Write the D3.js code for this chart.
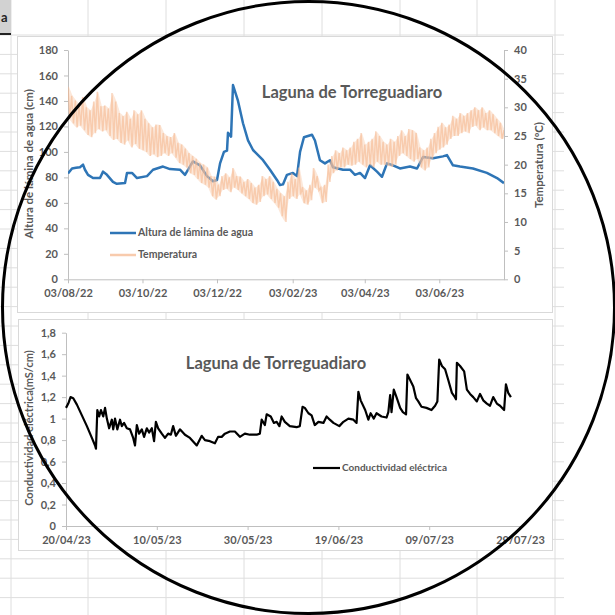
<!DOCTYPE html>
<html>
<head>
<meta charset="utf-8">
<script src="https://cdn.jsdelivr.net/npm/d3@7"></script>
<style>
    body { margin: 0; background: #fff; }
    svg { display: block; }
</style>
</head>
<body>
<script>
// ---- chart 1: water level (left axis) and temperature (right axis) ----
// days counted from 03/08/22
const levelDays = [0, 3.3, 6.5, 9.8, 12.3, 13.9, 16.4, 20.5, 26.2, 28.7,
    31.9, 36.8, 40, 46.7, 48.3, 52.4, 56.5, 64.7, 69.6, 77.8,
    83.5, 91.7, 95.8, 102.3, 108, 113.8, 118.7, 122, 124.5, 127.7,
    130.2, 131, 133.5, 135.1, 139.2, 143.3, 147.4, 151.5, 159.7, 165.4,
    171.1, 173.6, 176, 179.3, 184.2, 187.5, 190, 193.2, 199.8, 202.2,
    206.3, 210.4, 214.5, 217, 225.2, 230.9, 235, 239.1, 243.2, 247.3,
    253, 257.1, 261.2, 266.1, 271.8, 280, 285.8, 290.7, 298.9, 307,
    310.3, 315.2, 321, 331.6, 343, 351.3, 357]
const levelValues = [83, 87, 87.5, 88, 90, 86, 82, 79.5, 79.5, 84.5,
    82, 76.5, 75, 75.5, 83.5, 83.5, 79.5, 81, 86, 88.5,
    86.5, 86, 82, 92.5, 89.5, 81, 77, 78, 91, 100,
    101, 115, 112, 152.5, 140, 122.5, 109, 101.5, 93.5, 86,
    78, 74, 74.5, 82, 83.5, 81, 100, 111.5, 113.5, 109,
    93.5, 91, 93.5, 88, 86, 86, 82, 83.5, 79.5, 89.5,
    84.5, 80.5, 91, 89.5, 87, 88.5, 87, 96, 95, 96.5,
    97.5, 89.5, 88.5, 87, 83.5, 79.5, 75.5]

// temperature: daily high / low read every 3 days
const tempStep = 3
const tempMax = [33.6, 32.0, 31.2, 30.5, 31.8, 30.0, 29.5, 31.0, 32.7, 30.2,
    30.3, 29.8, 32.5, 31.0, 29.0, 28.5, 29.2, 28.0, 29.5, 28.8,
    29.5, 28.0, 27.2, 26.5, 27.0, 26.9, 25.5, 25.0, 24.8, 25.5,
    23.8, 23.5, 22.8, 22.0, 21.5, 21.0, 20.3, 20.0, 19.5, 18.0,
    17.9, 16.5, 18.0, 18.5, 17.8, 19.4, 18.0, 17.9, 17.0, 17.5,
    16.8, 16.0, 16.5, 18.0, 17.5, 18.0, 17.0, 15.8, 15.0, 14.5,
    17.0, 18.5, 17.5, 19.5, 16.1, 15.5, 16.5, 19.4, 18.0, 16.0,
    16.5, 20.0, 21.5, 22.5, 22.0, 23.0, 22.5, 23.0, 24.0, 24.5,
    25.5, 23.5, 24.0, 24.5, 25.8, 25.0, 24.0, 23.5, 24.5, 24.0,
    25.0, 26.0, 25.0, 26.2, 26.0, 25.5, 23.0, 22.5, 23.0, 24.5,
    25.5, 26.6, 27.3, 26.5, 27.0, 28.5, 28.0, 29.0, 28.5, 29.0,
    29.5, 30.0, 29.5, 30.0, 29.0, 29.5, 28.8, 28.0, 27.3, 26.0]
const tempMin = [28.0, 27.2, 26.5, 26.8, 26.0, 25.2, 24.8, 25.5, 26.2, 25.8,
    26.0, 25.0, 24.3, 24.5, 23.8, 23.5, 24.2, 23.0, 23.6, 22.8,
    22.5, 22.2, 21.5, 21.8, 21.3, 21.5, 22.0, 21.5, 22.0, 21.2,
    20.3, 20.0, 19.5, 18.5, 18.2, 17.5, 16.8, 16.5, 16.0, 14.5,
    13.9, 14.5, 15.6, 15.8, 15.2, 16.0, 15.6, 15.0, 14.5, 14.0,
    13.3, 13.0, 13.5, 14.5, 14.8, 14.0, 13.3, 12.5, 11.0, 10.0,
    14.0, 14.5, 14.0, 14.8, 13.3, 13.0, 13.8, 16.0, 15.5, 13.3,
    13.5, 17.0, 18.5, 19.0, 19.5, 19.5, 20.0, 19.8, 20.0, 20.5,
    20.0, 19.5, 20.0, 19.5, 20.5, 20.0, 20.0, 19.8, 19.6, 20.0,
    21.5, 22.0, 21.5, 21.0, 20.5, 21.0, 19.5, 19.0, 19.5, 21.0,
    22.0, 22.6, 23.0, 23.5, 24.5, 25.0, 25.0, 25.5, 25.8, 25.5,
    26.6, 26.8, 26.0, 26.5, 26.0, 26.0, 25.5, 25.0, 24.5, 24.5]

const topDateTicks = ["2022-08-03", "2022-10-03", "2022-12-03", "2023-02-03", "2023-04-03", "2023-06-03"]
const levelTicks = [0, 20, 40, 60, 80, 100, 120, 140, 160, 180]
const tempTicks = [0, 5, 10, 15, 20, 25, 30, 35, 40]

// ---- chart 2: electrical conductivity ----
// days counted from 20/04/23
const condDays = [0, 0.5, 1.0, 1.6, 2.4, 3.5, 4.6, 5.7, 6.4, 6.6,
    6.9, 7.3, 7.7, 8.2, 8.6, 9.0, 9.5, 10.1, 10.4, 10.8,
    11.3, 11.9, 12.3, 12.8, 13.4, 14.1, 14.8, 15.2, 15.6, 16.1,
    16.7, 17.2, 17.8, 18.3, 18.9, 19.4, 19.8, 20.3, 21.1, 21.8,
    22.5, 23.1, 23.6, 24.2, 25.1, 26.2, 27.3, 28.8, 29.9, 30.6,
    31.7, 32.8, 33.5, 34.3, 35.0, 36.1, 37.2, 38.3, 39.4, 40.5,
    42.0, 42.7, 43.1, 43.8, 44.2, 45.1, 45.8, 46.4, 47.0, 47.5,
    48.2, 49.3, 50.8, 51.5, 52.1, 52.6, 53.4, 54.1, 54.8, 55.6,
    56.7, 57.4, 58.1, 58.9, 60.2, 61.1, 62.2, 63.3, 64.0, 64.4,
    64.9, 65.9, 66.6, 67.1, 67.8, 68.4, 69.5, 70.6, 71.0, 71.4,
    71.7, 72.2, 72.8, 73.6, 74.2, 74.9, 75.2, 75.8, 76.5, 77.1,
    77.6, 78.3, 79.4, 80.5, 81.3, 81.8, 82.2, 82.8, 83.5, 84.2,
    85.0, 85.5, 85.9, 86.1, 86.8, 87.7, 88.3, 89.0, 89.7, 90.5,
    91.2, 91.9, 92.7, 93.4, 94.1, 94.9, 95.6, 96.5, 96.9, 97.4,
    98.0]
const condValues = [1.10, 1.14, 1.20, 1.19, 1.13, 1.03, 0.93, 0.82, 0.75, 0.72,
    1.08, 1.02, 1.08, 1.02, 1.10, 1.00, 0.91, 0.99, 0.90, 1.00,
    0.90, 0.99, 0.93, 0.96, 0.91, 0.90, 0.82, 0.75, 0.94, 0.86,
    0.90, 0.83, 0.91, 0.87, 0.91, 0.79, 0.97, 0.91, 0.86, 0.82,
    0.86, 0.85, 0.93, 0.84, 0.90, 0.85, 0.82, 0.75, 0.84, 0.80,
    0.79, 0.77, 0.83, 0.83, 0.86, 0.88, 0.88, 0.83, 0.86, 0.85,
    0.85, 0.86, 0.99, 0.94, 1.04, 1.02, 0.96, 0.97, 0.93, 1.02,
    0.97, 0.93, 0.92, 0.93, 1.11, 1.10, 1.05, 1.03, 0.94, 0.97,
    0.96, 1.02, 0.99, 0.96, 0.93, 0.97, 1.00, 0.99, 0.96, 1.25,
    1.17, 1.08, 0.99, 1.05, 1.00, 1.05, 1.02, 1.01, 1.06, 1.22,
    1.06, 1.27, 1.20, 1.10, 1.06, 1.04, 1.41, 1.36, 1.30, 1.19,
    1.16, 1.11, 1.10, 1.08, 1.12, 1.16, 1.55, 1.49, 1.46, 1.36,
    1.24, 1.21, 1.18, 1.52, 1.49, 1.44, 1.27, 1.23, 1.20, 1.16,
    1.23, 1.17, 1.14, 1.12, 1.20, 1.14, 1.12, 1.08, 1.32, 1.24,
    1.20]

const bottomDateTicks = ["2023-04-20", "2023-05-10", "2023-05-30", "2023-06-19", "2023-07-09", "2023-07-29"]
const condTicks = [0, 0.2, 0.4, 0.6, 0.8, 1, 1.2, 1.4, 1.6, 1.8]

const titleText = "Laguna de Torreguadiaro"

// ------------------------------------------------------------------
const W = 615, H = 615
const FONT = "Lato, 'Open Sans', sans-serif"
const GREY_TEXT = "#595959"
const AXIS_GREY = "#bfbfbf"
const GRID = "#dedede"

const parseDate = d3.timeParse("%Y-%m-%d")
const dayOffset = (start, d) => new Date(start.getTime() + d * 864e5)
const fmtDate = d3.timeFormat("%d/%m/%y")

const svg = d3.select("body").append("svg")
    .attr("width", W)
    .attr("height", H)

// spreadsheet background
function drawSheet() {
    const g = svg.append("g")
    const cols = [11, 88, 166, 244, 322, 400, 477, 555]
    const rows = d3.range(35, H, 19.4)
    g.selectAll("line.col").data(cols).join("line")
        .attr("x1", d => d).attr("x2", d => d)
        .attr("y1", 0).attr("y2", H)
        .attr("stroke", GRID)
    g.selectAll("line.row").data(rows).join("line")
        .attr("x1", 0).attr("x2", 564)
        .attr("y1", d => d).attr("y2", d => d)
        .attr("stroke", GRID)
    // selected header cell in the corner
    g.append("rect").attr("x", 0).attr("y", 0).attr("width", 11).attr("height", 34)
        .attr("fill", "#d2d2d2")
    g.append("line").attr("x1", 0).attr("x2", 11).attr("y1", 34).attr("y2", 34)
        .attr("stroke", "#222").attr("stroke-width", 2)
    g.append("text").text("a").attr("x", 1).attr("y", 22)
        .style("font-family", FONT).style("font-size", "13px").style("font-weight", "bold")
        .attr("fill", "#222")
}

function styleAxis(g) {
    g.select(".domain").attr("stroke", AXIS_GREY)
    g.selectAll(".tick line").attr("stroke", AXIS_GREY)
    g.selectAll(".tick text")
        .attr("fill", GREY_TEXT)
        .style("font-family", FONT)
        .style("font-size", "11px")
        .style("font-weight", "bold")
}

function chartBox(x, y, w, h) {
    svg.append("rect")
        .attr("x", x + 0.5).attr("y", y + 0.5)
        .attr("width", w).attr("height", h)
        .attr("fill", "#fff")
        .attr("stroke", "#d9d9d9")
}

function addText(txt, x, y, size, opts = {}) {
    const t = svg.append("text")
        .text(txt)
        .attr("x", x).attr("y", y)
        .attr("fill", opts.fill || GREY_TEXT)
        .style("font-family", FONT)
        .style("font-size", size + "px")
        .style("font-weight", opts.weight || "bold")
        .attr("text-anchor", opts.anchor || "start")
        .attr("dominant-baseline", opts.baseline || "auto")
    if (opts.rotate) t.attr("transform", `rotate(-90, ${x}, ${y})`)
    return t
}

// ---- chart 1 ----
function drawTopChart() {
    chartBox(17, 36, 535, 276)

    const start = parseDate("2022-08-03")
    const x = d3.scaleTime()
        .domain([start, parseDate("2023-07-26")])
        .range([68, 504])
    const yL = d3.scaleLinear().domain([0, 180]).range([279.3, 50])
    const yR = d3.scaleLinear().domain([0, 40]).range([279.3, 50])

    svg.append("defs").append("clipPath").attr("id", "clip1")
        .append("rect").attr("x", 68).attr("y", 40).attr("width", 436).attr("height", 245)

    svg.append("g")
        .attr("transform", "translate(0,279.3)")
        .call(d3.axisBottom(x).tickValues(topDateTicks.map(parseDate))
            .tickFormat(fmtDate).tickSize(4).tickSizeOuter(0).tickPadding(6))
        .call(styleAxis)
    svg.append("g")
        .attr("transform", "translate(68,0)")
        .call(d3.axisLeft(yL).tickValues(levelTicks).tickSize(4).tickSizeOuter(0).tickPadding(6))
        .call(styleAxis)
    svg.append("g")
        .attr("transform", "translate(504,0)")
        .call(d3.axisRight(yR).tickValues(tempTicks).tickSize(4).tickSizeOuter(0).tickPadding(6))
        .call(styleAxis)

    const plot = svg.append("g").attr("clip-path", "url(#clip1)")

    const level = levelDays.map((d, i) => [dayOffset(start, d), levelValues[i]])
    plot.append("path")
        .datum(level)
        .attr("fill", "none")
        .attr("stroke", "#2e75b6")
        .attr("stroke-width", 2.5)
        .attr("stroke-linejoin", "round")
        .attr("d", d3.line().x(d => x(d[0])).y(d => yL(d[1])))

    // daily range of each period, as a faint band
    const band = tempMax.map((v, i) => [dayOffset(start, i * tempStep + tempStep / 4), tempMin[i], v])
    plot.append("path")
        .datum(band)
        .attr("fill", "#f8cbad")
        .attr("fill-opacity", 0.45)
        .attr("d", d3.area().x(d => x(d[0])).y0(d => yR(d[1])).y1(d => yR(d[2])))

    // high then low of each period, giving the daily swing
    const temp = []
    tempMax.forEach((v, i) => {
        temp.push([dayOffset(start, i * tempStep), v])
        temp.push([dayOffset(start, i * tempStep + tempStep / 2), tempMin[i]])
    })
    plot.append("path")
        .datum(temp)
        .attr("fill", "none")
        .attr("stroke", "#f5b790")
        .attr("stroke-opacity", 0.6)
        .attr("stroke-width", 1.4)
        .attr("d", d3.line().x(d => x(d[0])).y(d => yR(d[1])))

    addText(titleText, 352, 98, 16.5, {anchor: "middle"})
    addText("Altura de lámina de agua (cm)", 30, 164, 11.5, {anchor: "middle", baseline: "middle", rotate: true})
    addText("Temperatura (ºC)", 540, 165, 11.5, {anchor: "middle", baseline: "middle", rotate: true})

    // legend
    const legend = [
        {name: "Altura de lámina de agua", color: "#2e75b6", width: 2.5, y: 233},
        {name: "Temperatura", color: "#f8cbad", width: 2.5, y: 255}
    ]
    const lg = svg.append("g")
    lg.selectAll("line").data(legend).join("line")
        .attr("x1", 110).attr("x2", 136)
        .attr("y1", d => d.y).attr("y2", d => d.y)
        .attr("stroke", d => d.color)
        .attr("stroke-width", d => d.width)
    legend.forEach(d => addText(d.name, 138, d.y, 10.5, {baseline: "middle"}))
}

// ---- chart 2 ----
function drawBottomChart() {
    chartBox(18, 319, 534, 231)

    const start = parseDate("2023-04-20")
    const x = d3.scaleTime()
        .domain([start, parseDate("2023-07-29")])
        .range([66, 520])
    const y = d3.scaleLinear().domain([0, 1.8]).range([526, 332.7])

    svg.append("g")
        .attr("transform", "translate(0,526)")
        .call(d3.axisBottom(x).tickValues(bottomDateTicks.map(parseDate))
            .tickFormat(fmtDate).tickSize(4).tickSizeOuter(0).tickPadding(6))
        .call(styleAxis)
    svg.append("g")
        .attr("transform", "translate(66,0)")
        .call(d3.axisLeft(y).tickValues(condTicks).tickSize(4).tickSizeOuter(0).tickPadding(6)
            .tickFormat(d => String(+d.toFixed(1)).replace(".", ",")))
        .call(styleAxis)

    const cond = condDays.map((d, i) => [dayOffset(start, d), condValues[i]])
    svg.append("path")
        .datum(cond)
        .attr("fill", "none")
        .attr("stroke", "#000")
        .attr("stroke-width", 2.2)
        .attr("stroke-linejoin", "round")
        .attr("d", d3.line().x(d => x(d[0])).y(d => y(d[1])))

    addText(titleText, 276, 369, 16.5, {anchor: "middle"})
    addText("Conductividad eléctrica(mS/cm)", 30, 428, 11, {anchor: "middle", baseline: "middle", rotate: true})

    svg.append("line")
        .attr("x1", 313).attr("x2", 340).attr("y1", 468).attr("y2", 468)
        .attr("stroke", "#000").attr("stroke-width", 2.2)
    addText("Conductividad eléctrica", 342, 468, 10, {baseline: "middle"})
}

drawSheet()
drawTopChart()
drawBottomChart()

// hand-drawn circle over the screenshot
svg.append("circle")
    .attr("cx", 308.5).attr("cy", 307.5).attr("r", 306)
    .attr("fill", "none")
    .attr("stroke", "#000")
    .attr("stroke-width", 3)
</script>
</body>
</html>
